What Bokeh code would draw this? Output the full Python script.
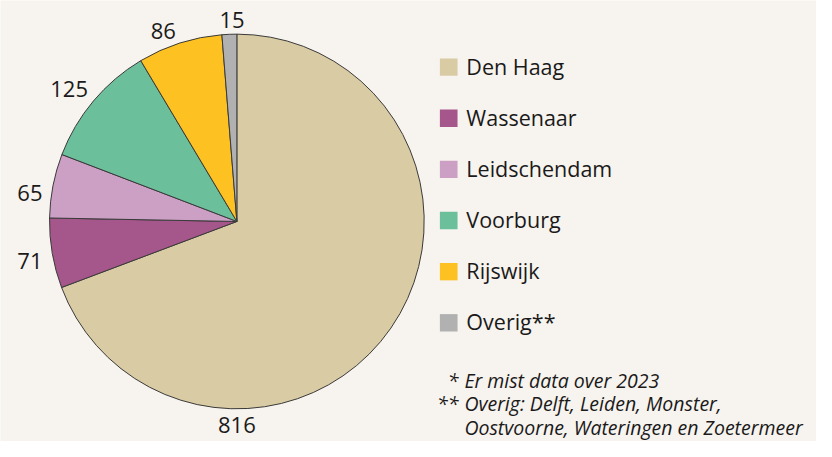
import math
from bokeh.plotting import figure
from bokeh.models import Range1d, ColumnDataSource
from bokeh.core.properties import value
from bokeh.embed import file_html
from bokeh.resources import INLINE

# ---- data ----
categories = ["Den Haag", "Wassenaar", "Leidschendam", "Voorburg", "Rijswijk", "Overig**"]
counts = [816, 71, 65, 125, 86, 15]
colors = ["#D9CBA3", "#A5568A", "#CC9FC4", "#6BBF9B", "#FDC121", "#B1B1B1"]
footnote_marks = ["*", "**", ""]
footnote_lines = ["Er mist data over 2023", "Overig: Delft, Leiden, Monster,",
                  "Oostvoorne, Wateringen en Zoetermeer"]

# ---- layout (reference px, mapped onto the figure) ----
W, H = 816, 441          # figure size
RW, RH = 832, 457        # reference coordinate frame
BG = "#F7F3EE"
FONT = "Open Sans"

def sx(x):
    return x

def sy(y):
    return RH - y

cx, cy, R = 241, 229, 191
label_pos = [(241, 440), (30, 270), (30, 199), (70, 92), (166, 32), (236, 20)]
leg_x, leg_y0, leg_dy, leg_sq = 457, 69, 53, 18
foot_ys = [394, 418, 443]

p = figure(width=W, height=H, output_backend="svg", toolbar_location=None,
           x_range=Range1d(0, RW), y_range=Range1d(0, RH), min_border=0,
           background_fill_color=BG, border_fill_color=BG, outline_line_color=None)
p.axis.visible = False
p.grid.visible = False

total = sum(counts)
starts, ends = [], []
acc = 0
for c in counts:
    a0 = math.pi / 2 - 2 * math.pi * acc / total
    acc += c
    a1 = math.pi / 2 - 2 * math.pi * acc / total
    starts.append(a0)
    ends.append(a1)

src = ColumnDataSource(dict(start=starts, end=ends, color=colors, cat=categories, n=counts))
p.wedge(x=sx(cx), y=sy(cy), radius=R, start_angle="start", end_angle="end",
        direction="clock", fill_color="color", line_color="#3A3A3A", line_width=1,
        source=src)

# value labels
p.text(x=[sx(x) for x, _ in label_pos], y=[sy(y) for _, y in label_pos],
       text=[str(c) for c in counts], text_font=value(FONT), text_font_size="22px",
       text_color="#1A1A1A", text_align="center", text_baseline="middle")

# legend
ly = [sy(leg_y0 + i * leg_dy) for i in range(len(categories))]
p.rect(x=[sx(leg_x)] * len(categories), y=ly, width=leg_sq, height=leg_sq,
       fill_color=colors, line_color=None)
p.text(x=[sx(475)] * len(categories), y=[v + 1 for v in ly], text=categories,
       text_font=value(FONT), text_font_size="21.5px", text_color="#1A1A1A",
       text_align="left", text_baseline="middle")

# footnotes
fy = [sy(v) for v in foot_ys]
p.text(x=[sx(467)] * 3, y=fy, text=footnote_marks, text_font=value(FONT),
       text_font_size="19.5px", text_font_style="italic", text_color="#1A1A1A",
       text_align="right", text_baseline="middle")
p.text(x=[sx(473)] * 3, y=fy, text=footnote_lines, text_font=value(FONT),
       text_font_size="19.5px", text_font_style="italic", text_color="#1A1A1A",
       text_align="left", text_baseline="middle")

open("out.html", "w").write(file_html(p, INLINE))
